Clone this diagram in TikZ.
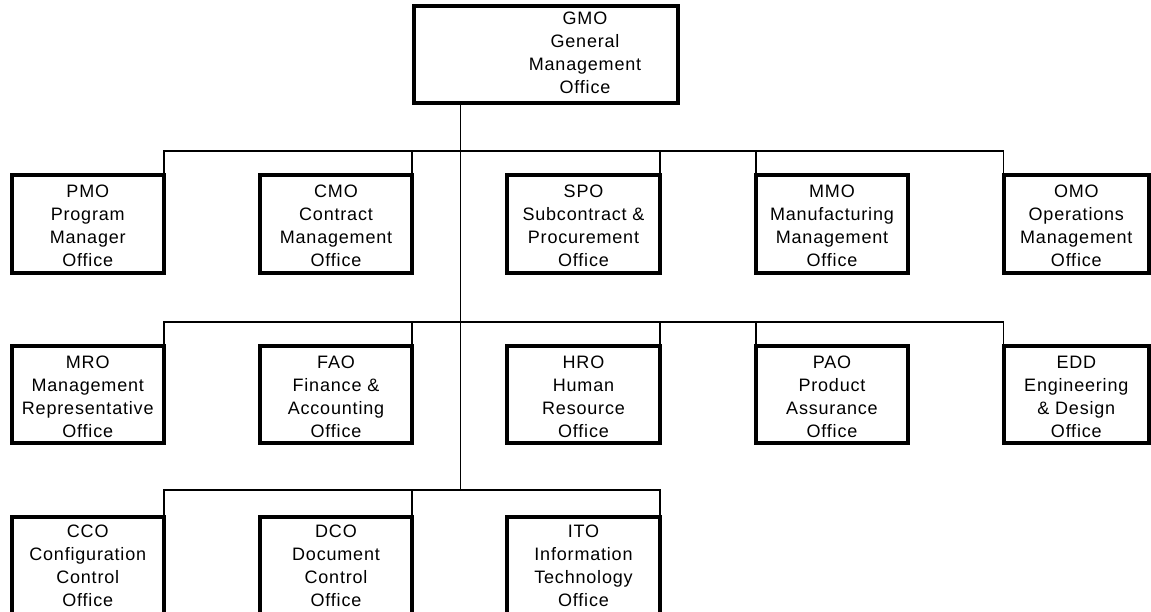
\documentclass[tikz,border=0pt]{standalone}
\usepackage{fontspec}
\setmainfont{Liberation Sans}[LetterSpace=4.5]
\begin{document}
\begin{tikzpicture}[x=1pt,y=-1pt,
  box/.style={draw, line width=4pt, inner sep=0pt, outer sep=0pt,
    minimum width=152pt, minimum height=97pt},
  txt/.style={align=center, inner sep=0pt, outer sep=0pt, anchor=north,
    font=\fontsize{18}{23}\selectfont},
  link/.style={line width=1.4pt}]
\useasboundingbox (0,0) rectangle (1151,611);
\clip (0,0) rectangle (1151,611);
\newcommand{\st}{\rule{0pt}{13pt}}
% top
\node[box, minimum width=264.3pt] (gmo) at (545.85,54) {};
\node[txt] (gmot) at (585,11) {\st GMO\\General\\Management\\Office};
% row 1
\node[box, minimum width=152.5pt, minimum height=98pt] (pmo) at (87.75,224.3) {};
\node[box, minimum height=98pt] (cmo) at (336,224.3) {};
\node[box, minimum width=153pt, minimum height=98pt] (spo) at (583.5,224.3) {};
\node[box, minimum height=98pt] (mmo) at (832,224.3) {};
\node[box, minimum width=145.3pt, minimum height=98pt] (omo) at (1076.3,224.3) {};
% row 2
\node[box, minimum width=152.5pt, minimum height=96.4pt] (mro) at (87.75,394.5) {};
\node[box, minimum height=96.4pt] (fao) at (336,394.5) {};
\node[box, minimum width=153pt, minimum height=96.4pt] (hro) at (583.5,394.5) {};
\node[box, minimum height=96.4pt] (pao) at (832,394.5) {};
\node[box, minimum width=145.3pt, minimum height=96.4pt] (edd) at (1076.3,394.5) {};
% row 3
\node[box, minimum width=152.5pt] (cco) at (87.75,565.5) {};
\node[box] (dco) at (336,565.5) {};
\node[box, minimum width=153pt] (ito) at (583.5,565.5) {};
% texts
\node[txt] (pmot) at ([yshift=-9pt]pmo.north) {\st PMO\\Program\\Manager\\Office};
\node[txt] (cmot) at ([yshift=-9pt]cmo.north) {\st CMO\\Contract\\Management\\Office};
\node[txt] (spot) at ([yshift=-9pt]spo.north) {\st SPO\\Subcontract \&\\Procurement\\Office};
\node[txt] (mmot) at ([yshift=-9pt]mmo.north) {\st MMO\\Manufacturing\\Management\\Office};
\node[txt] (omot) at ([yshift=-9pt]omo.north) {\st OMO\\Operations\\Management\\Office};
\node[txt] (mrot) at ([yshift=-9pt]mro.north) {\st MRO\\Management\\Representative\\Office};
\node[txt] (faot) at ([yshift=-9pt]fao.north) {\st FAO\\Finance \&\\Accounting\\Office};
\node[txt] (hrot) at ([yshift=-9pt]hro.north) {\st HRO\\Human\\Resource\\Office};
\node[txt] (paot) at ([yshift=-9pt]pao.north) {\st PAO\\Product\\Assurance\\Office};
\node[txt] (eddt) at ([yshift=-9pt]edd.north) {\st EDD\\Engineering\\\& Design\\Office};
\node[txt] (ccot) at ([yshift=-7pt]cco.north) {\st CCO\\Configuration\\Control\\Office};
\node[txt] (dcot) at ([yshift=-7pt]dco.north) {\st DCO\\Document\\Control\\Office};
\node[txt] (itot) at ([yshift=-7pt]ito.north) {\st ITO\\Information\\Technology\\Office};
% bus coordinates
\coordinate (bus1) at (460.3,150.8);
\coordinate (bus2) at (460.3,321.8);
\coordinate (bus3) at (460.3,489.8);
% trunk
\draw[link] (gmo.south -| bus3) -- (bus3);
% row 1 connectors
\draw[link] (pmo.north east) -- (pmo.north east |- bus1) -- (omo.north west |- bus1) -- (omo.north west);
\draw[link] (cmo.north east) -- (cmo.north east |- bus1);
\draw[link] (spo.north east) -- (spo.north east |- bus1);
\draw[link] (mmo.north west) -- (mmo.north west |- bus1);
% row 2 connectors
\draw[link] (mro.north east) -- (mro.north east |- bus2) -- (edd.north west |- bus2) -- (edd.north west);
\draw[link] (fao.north east) -- (fao.north east |- bus2);
\draw[link] (hro.north east) -- (hro.north east |- bus2);
\draw[link] (pao.north west) -- (pao.north west |- bus2);
% row 3 connectors
\draw[link] (cco.north east) -- (cco.north east |- bus3) -- (ito.north east |- bus3) -- (ito.north east);
\draw[link] (dco.north east) -- (dco.north east |- bus3);
\end{tikzpicture}
\end{document}
